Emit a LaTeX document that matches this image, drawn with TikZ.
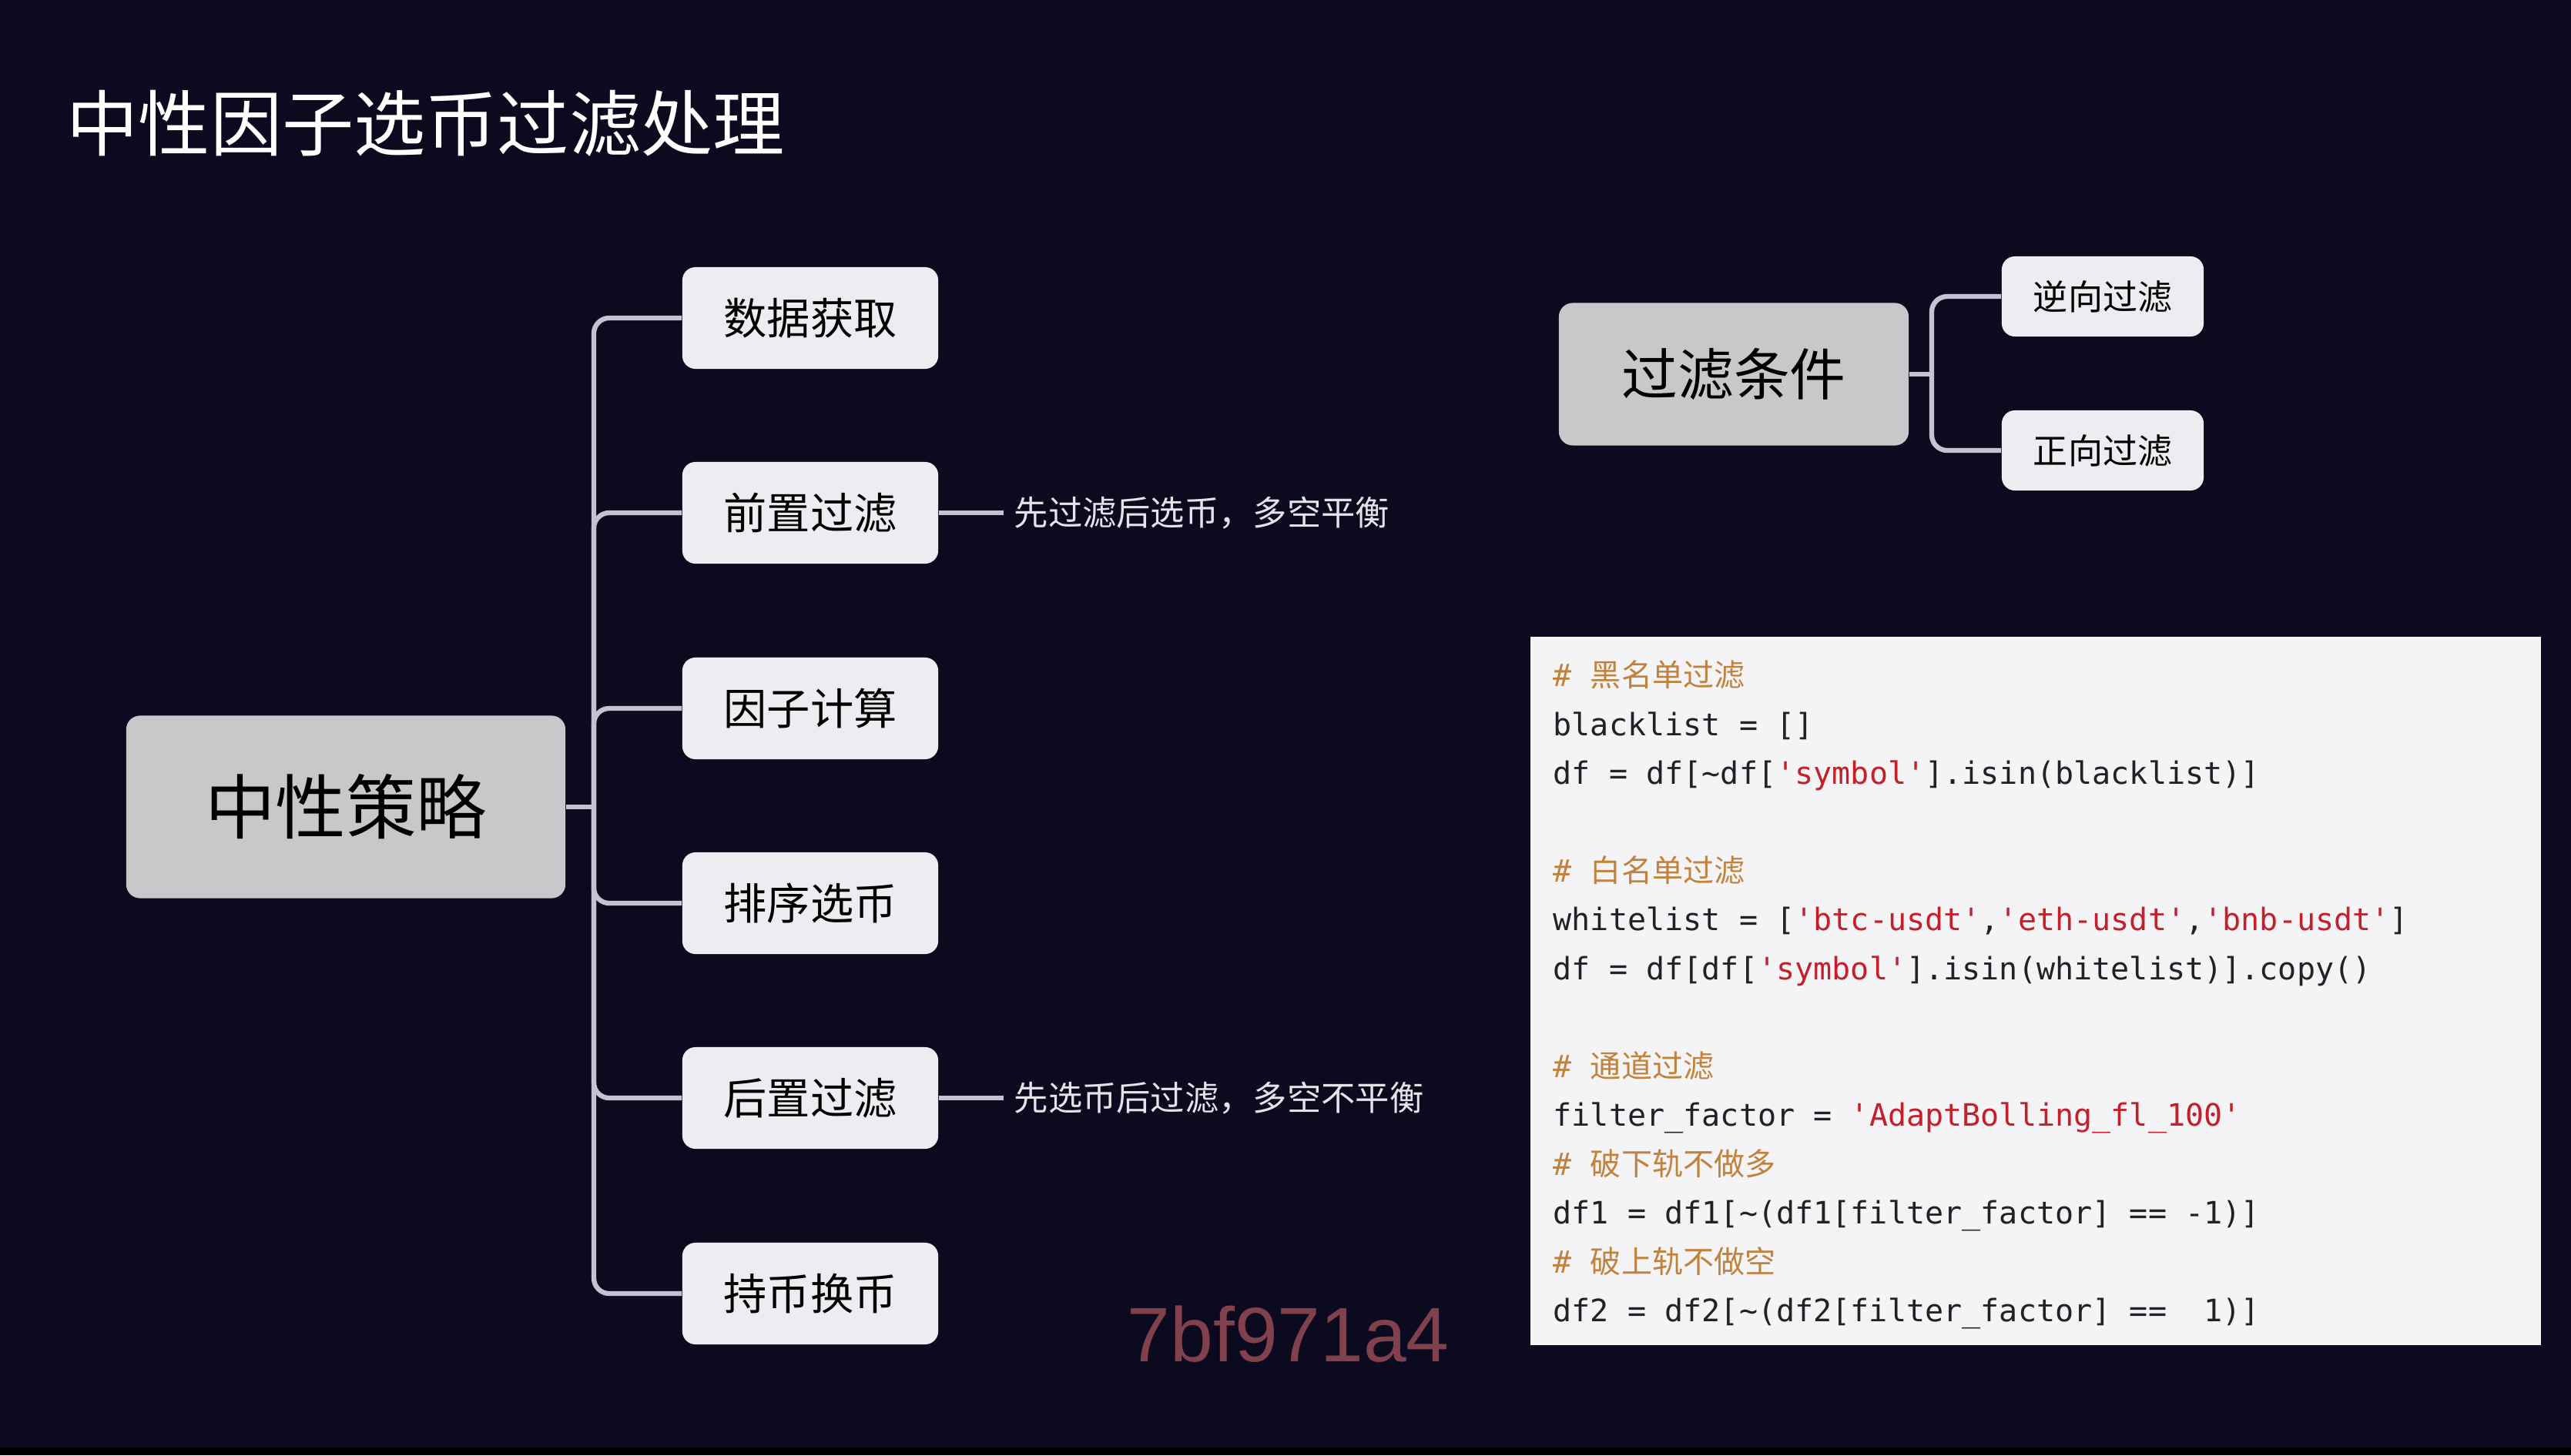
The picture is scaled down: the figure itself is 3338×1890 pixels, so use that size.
\documentclass[tikz,border=0pt]{standalone}
\usepackage{xcolor}
\usepackage{fontspec}
\usepackage{tikz}
\newfontfamily\cjk{Noto Sans CJK SC}
\newfontfamily\codefont{DejaVu Sans Mono}
\newfontfamily\markfont{Liberation Sans}
\definecolor{bgnavy}{HTML}{0B0A1F}
\definecolor{rootgray}{HTML}{C8C8CB}
\definecolor{leafgray}{HTML}{EDEDF1}
\definecolor{wiregray}{HTML}{C6C2D2}
\definecolor{codebg}{HTML}{F4F4F6}
\definecolor{codecom}{HTML}{C0823C}
\definecolor{codered}{HTML}{C3202C}
\definecolor{codeink}{HTML}{222226}
\definecolor{notegray}{HTML}{E4E4E8}
\definecolor{markred}{HTML}{80404C}
\newcommand{\cstr}[1]{\textcolor{codered}{\textquotesingle#1\textquotesingle}}
\newcommand{\ccom}[1]{\textcolor{codecom}{\#\ {\cjk #1}}}

\begin{document}
\begin{tikzpicture}[x=0.01cm, y=0.01cm]
    \tikzstyle{every node}+=[inner sep=0pt]
    \tikzstyle{root}=[fill=rootgray, rounded corners=0.18cm, minimum width=5.7cm, minimum height=2.37cm, text=black, font=\cjk\fontsize{26}{30}\selectfont]
    \tikzstyle{leaf}=[fill=leafgray, rounded corners=0.17cm, minimum width=3.32cm, minimum height=1.32cm, text=black, font=\cjk\fontsize{16}{19}\selectfont]
    \tikzstyle{smallleaf}=[leaf, minimum width=2.62cm, minimum height=1.04cm, font=\cjk\fontsize{12.8}{15}\selectfont]
    \tikzstyle{wire}=[draw=wiregray, line width=1.8pt]
    \tikzstyle{note}=[anchor=west, inner xsep=0.13cm, text=notegray, font=\cjk\fontsize{12.6}{15}\selectfont]
    \tikzstyle{codeline}=[anchor=base west, text=codeink, font=\codefont\fontsize{11.4}{14}\selectfont]
    \fill [bgnavy] (0,0) rectangle (3338,-1890);
    \fill [black] (0,-1880) rectangle (3338,-1890);
    \useasboundingbox (0,0) rectangle (3338,-1890);
    \node [anchor=west, text=white, font=\cjk\fontsize{26.5}{31}\selectfont] (title) at (86,-160) {中性因子选币过滤处理};
    \node [root] (strategy) at (449,-1048) {中性策略};
    \node [leaf] (fetch) at (1052,-413) {数据获取};
    \node [leaf] (prefilter) at (1052,-666) {前置过滤};
    \node [leaf] (factor) at (1052,-920) {因子计算};
    \node [leaf] (rank) at (1052,-1173) {排序选币};
    \node [leaf] (postfilter) at (1052,-1426) {后置过滤};
    \node [leaf] (hold) at (1052,-1680) {持币换币};
    \coordinate (fork) at (771,-1048);
    \draw [wire] (strategy.east) -- (fork);
    \foreach \n in {fetch,prefilter,factor,rank,postfilter,hold}
        \draw [wire, rounded corners=0.2cm] (fork) |- (\n.west);
    \node [note] (prenote) at (1303,-666) {先过滤后选币，多空平衡};
    \draw [wire] (prefilter.east) -- (prenote.west);
    \node [note] (postnote) at (1303,-1426) {先选币后过滤，多空不平衡};
    \draw [wire] (postfilter.east) -- (postnote.west);
    \node [root, minimum width=4.54cm, minimum height=1.85cm, font=\cjk\fontsize{20.7}{24}\selectfont] (cond) at (2251,-486) {过滤条件};
    \node [smallleaf] (reverse) at (2730,-385) {逆向过滤};
    \node [smallleaf] (forward) at (2730,-585) {正向过滤};
    \coordinate (condfork) at (2508,-486);
    \draw [wire] (cond.east) -- (condfork);
    \foreach \n in {reverse,forward}
        \draw [wire, rounded corners=0.2cm] (condfork) |- (\n.west);
    \node [fill=codebg, anchor=north west, minimum width=13.12cm, minimum height=9.2cm] (codebox) at (1986,-826) {};
    \node [codeline] (c1) at (2016,-891) {\ccom{黑名单过滤}};
    \node [codeline] (c2) at (2016,-955) {blacklist = []};
    \node [codeline] (c3) at (2016,-1018) {df = df[\textasciitilde df[\cstr{symbol}].isin(blacklist)]};
    \node [codeline] (c4) at (2016,-1145) {\ccom{白名单过滤}};
    \node [codeline] (c5) at (2016,-1208) {whitelist = [\cstr{btc-usdt},\cstr{eth-usdt},\cstr{bnb-usdt}]};
    \node [codeline] (c6) at (2016,-1272) {df = df[df[\cstr{symbol}].isin(whitelist)].copy()};
    \node [codeline] (c7) at (2016,-1399) {\ccom{通道过滤}};
    \node [codeline] (c8) at (2016,-1462) {filter\_factor = \cstr{AdaptBolling\_fl\_100}};
    \node [codeline] (c9) at (2016,-1526) {\ccom{破下轨不做多}};
    \node [codeline] (c10) at (2016,-1589) {df1 = df1[\textasciitilde(df1[filter\_factor] == -1)]};
    \node [codeline] (c11) at (2016,-1653) {\ccom{破上轨不做空}};
    \node [codeline] (c12) at (2016,-1716) {df2 = df2[\textasciitilde(df2[filter\_factor] == \ 1)]};
    \node [anchor=base west, text=markred, font=\markfont\fontsize{28.5}{34}\selectfont] (mark) at (1463,-1768) {7bf971a4};
\end{tikzpicture}
\end{document}
